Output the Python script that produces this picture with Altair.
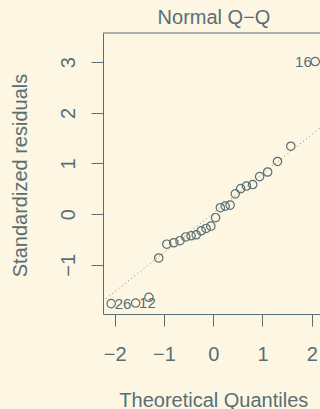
import altair as alt
import pandas as pd
import numpy as np
from statistics import NormalDist

# ---- data (Normal Q-Q plot of standardized residuals)
theoretical_q = [-2.070, -1.574, -1.304, -1.105, -0.942, -0.801, -0.674, -0.558,
                 -0.448, -0.344, -0.243, -0.145, -0.048, 0.048, 0.145, 0.243,
                 0.344, 0.448, 0.558, 0.674, 0.801, 0.942, 1.105, 1.304, 1.574, 2.070]
std_resid = [-1.768, -1.758, -1.644, -0.867, -0.594, -0.566, -0.525, -0.451,
             -0.428, -0.408, -0.329, -0.283, -0.238, -0.071, 0.127, 0.158,
             0.178, 0.400, 0.503, 0.554, 0.584, 0.741, 0.832, 1.040, 1.341, 3.014]
point_ids = ["26", "12"] + [""] * 23 + ["16"]

x_ticks = [-2, -1, 0, 1, 2]
y_ticks = [-1, 0, 1, 2, 3]

BG = "#fdf6e3"
FG = "#586e75"
LINE = "#7f7f7f"
FONT = "Liberation Sans"

df = pd.DataFrame({"q": theoretical_q, "r": std_resid, "id": point_ids})

# R-style axis ranges (plot.lm extends the top by 7.5 %, then 4 % padding)
ymin, ymax = min(std_resid), max(std_resid)
ymax_c = ymax + 0.075 * (ymax - ymin)
ypad = 0.04 * (ymax_c - ymin)
y_dom = [ymin - ypad, ymax_c + ypad]
xmin, xmax = min(theoretical_q), max(theoretical_q)
xpad = 0.04 * (xmax - xmin)
x_full = [xmin - xpad, xmax + xpad]
W, H = 217, 281
FULL_W = 220.4  # the reference's plot box runs past the right edge of the picture
x_dom = [x_full[0], x_full[0] + (x_full[1] - x_full[0]) * W / FULL_W]

# qqline through the quartiles
r1, r3 = np.percentile(std_resid, [25, 75])
z1, z3 = NormalDist().inv_cdf(0.25), NormalDist().inv_cdf(0.75)
slope = (r3 - r1) / (z3 - z1)
intercept = r1 - slope * z1
line_df = pd.DataFrame({"q": x_dom, "r": [intercept + slope * v for v in x_dom]})
top_df = pd.DataFrame({"r": [y_dom[1]]})

xs = alt.Scale(domain=x_dom, nice=False, zero=False)
ys = alt.Scale(domain=y_dom, nice=False, zero=False)

x_axis = alt.Axis(values=x_ticks, tickSize=12, labelPadding=34, labelBaseline="alphabetic",
                  labelFlush=False, labelFontSize=20, grid=False,
                  title="Theoretical Quantiles", titleX=110.3, titleY=92.5,
                  titleBaseline="alphabetic", titleAlign="center")
y_axis = alt.Axis(values=y_ticks, tickSize=12, labelAngle=270, labelAlign="center",
                  labelBaseline="alphabetic", labelPadding=16.5, labelFontSize=20,
                  labelFlush=False, grid=False,
                  title="Standardized residuals", titleAngle=270, titleX=-77, titleY=142,
                  titleBaseline="alphabetic", titleAlign="center")

X = alt.X("q:Q", scale=xs, axis=x_axis)
Y = alt.Y("r:Q", scale=ys, axis=y_axis)

points = alt.Chart(df).mark_point(
    shape="circle", filled=False, size=70, strokeWidth=1.2, color=FG, opacity=1
).encode(x=X, y=Y)

qqline = alt.Chart(line_df).mark_line(
    clip=True, color=LINE, strokeDash=[1, 3], strokeWidth=1
).encode(x=X, y=Y)

top_border = alt.Chart(top_df).mark_rule(color=FG, strokeWidth=1).encode(y=Y)

lab_left = alt.Chart(df).transform_filter(
    "datum.id != '' && datum.q < 0"
).mark_text(align="left", baseline="middle", dx=3.5, fontSize=15, font=FONT, color=FG).encode(
    x=X, y=Y, text="id:N")

lab_right = alt.Chart(df).transform_filter(
    "datum.id != '' && datum.q > 0"
).mark_text(align="right", baseline="middle", dx=-3.5, fontSize=15, font=FONT, color=FG).encode(
    x=X, y=Y, text="id:N")

chart = alt.layer(qqline, top_border, points, lab_left, lab_right).properties(
    width=W, height=H,
    padding={"left": 103, "top": 33, "right": 0, "bottom": 95},
    autosize=alt.AutoSizeParams(type="none"),
    background=BG,
    title=alt.TitleParams("Normal Q\u2212Q", fontSize=20, font=FONT, color=FG,
                          fontWeight="normal", anchor="middle", frame="group",
                          baseline="alphabetic", offset=10, dx=2.5, dy=21),
).configure_view(stroke=None).configure_axis(
    labelFont=FONT, titleFont=FONT, labelColor=FG, titleColor=FG,
    domainColor=FG, tickColor=FG, domainWidth=1, tickWidth=1,
    titleFontSize=20, titleFontWeight="normal", labelOverlap=False,
)

chart.save("out.html", embed_options={"renderer": "svg", "actions": False})
